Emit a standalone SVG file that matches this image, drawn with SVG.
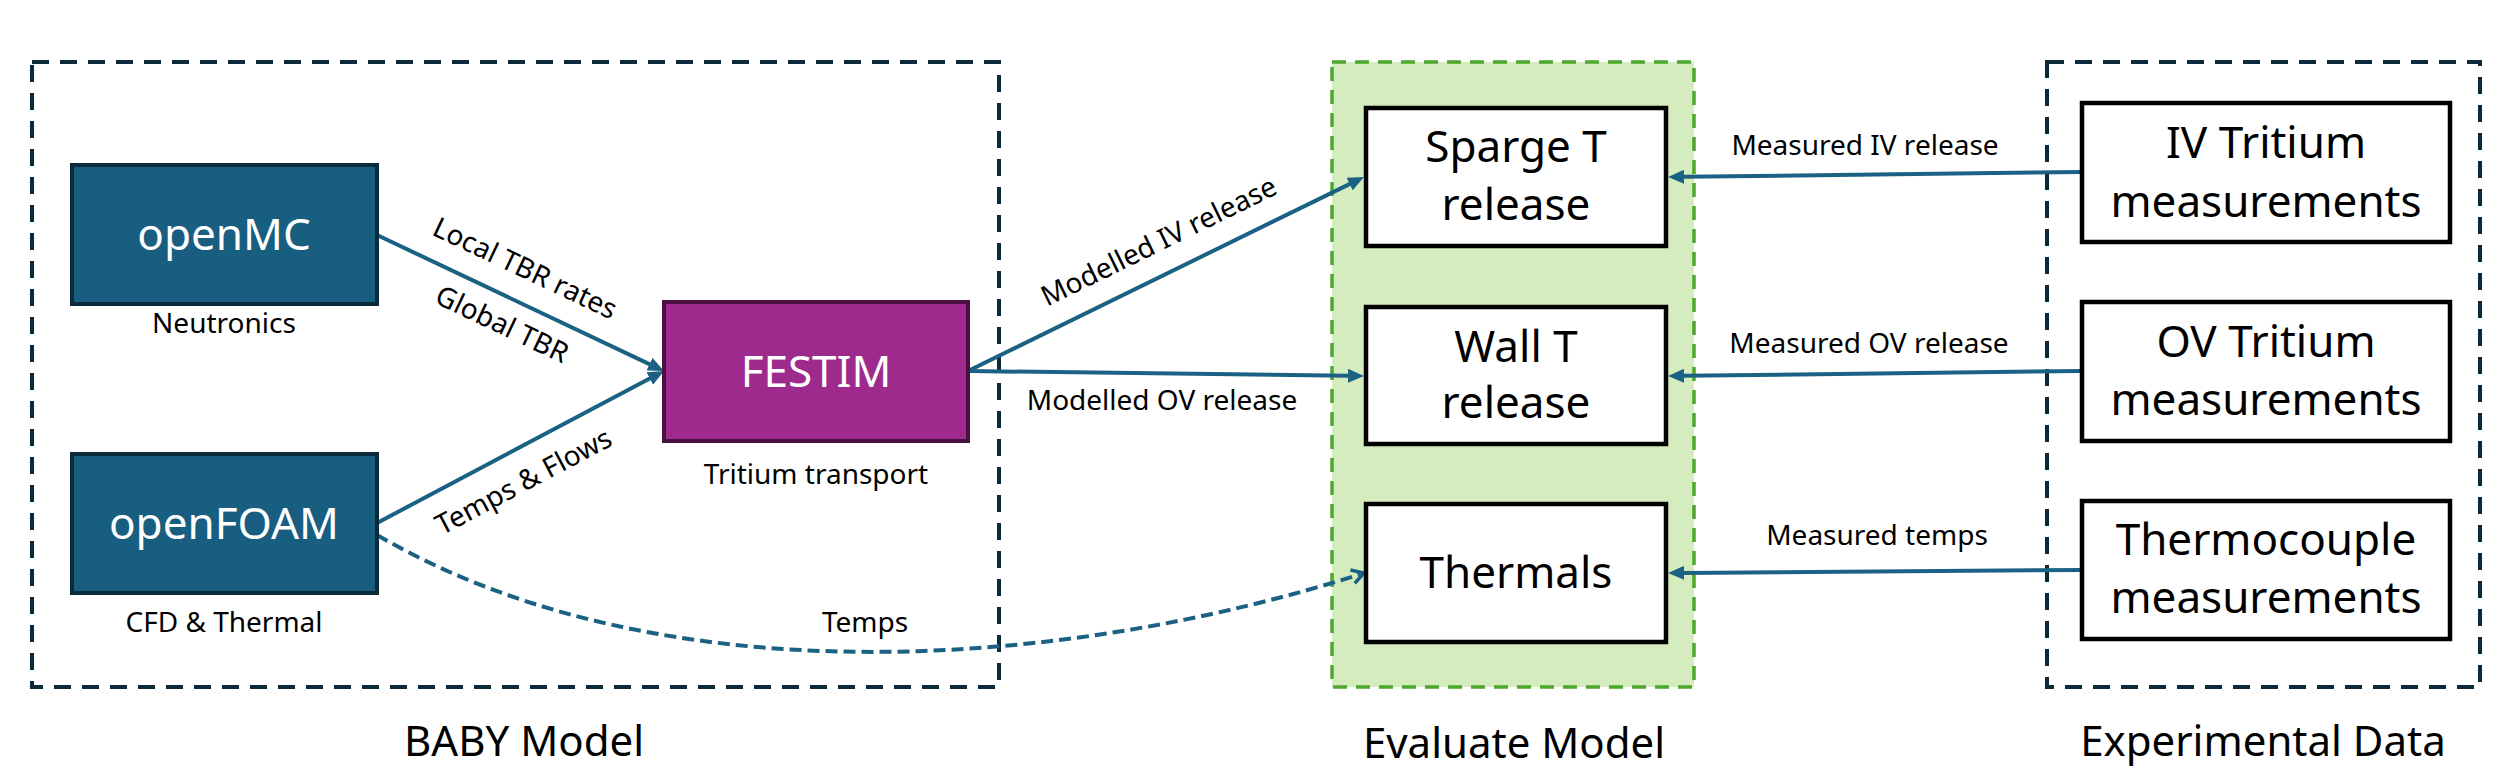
<svg xmlns="http://www.w3.org/2000/svg" width="2500" height="776" viewBox="0 0 2500 776">
<style>
text{font-family:"Noto Sans","Liberation Sans",sans-serif;fill:#000}
.big{font-size:44px;text-anchor:middle}
.wt{fill:#fff}
.sm{font-size:28px;text-anchor:middle}
.grp{fill:none;stroke:#0d2a3a;stroke-width:4;stroke-dasharray:17 11}
.blue{fill:#175e80;stroke:#0b2a3a;stroke-width:4}
.white{fill:#fff;stroke:#000;stroke-width:4.5}
.con{fill:none;stroke:#1b6184;stroke-width:4}
</style>
<defs>
<marker id="ah" markerUnits="userSpaceOnUse" markerWidth="16" markerHeight="14" viewBox="0 0 16 14" refX="1" refY="7" orient="auto">
<path d="M0,0 L16,7 L0,14 z" fill="#1b6184"/>
</marker>
<marker id="oa" markerUnits="userSpaceOnUse" markerWidth="18" markerHeight="18" viewBox="0 0 18 18" refX="15" refY="9" orient="auto">
<path d="M3,2 L15,9 L3,16" fill="none" stroke="#1b6184" stroke-width="3.5"/>
</marker>
</defs>
<rect width="2500" height="776" fill="#fff"/>

<g id="group-baby">
<rect class="grp" x="32" y="62" width="967" height="625"/>
<text class="big" x="524" y="756" style="font-size:42px">BABY Model</text>
</g>
<g id="group-evaluate">
<rect x="1332" y="62" width="362" height="625" fill="#d5ecbf" stroke="#4ea72e" stroke-width="3.5" stroke-dasharray="14 9"/>
<text class="big" x="1514" y="758" style="font-size:42px">Evaluate Model</text>
</g>
<g id="group-experimental">
<rect class="grp" x="2047" y="62" width="433" height="625"/>
<text class="big" x="2263" y="756" style="font-size:42px">Experimental Data</text>
</g>

<g id="connectors">
<line class="con" x1="377" y1="235" x2="650.4" y2="364.6" marker-end="url(#ah)"/>
<line class="con" x1="377" y1="523" x2="650.7" y2="378" marker-end="url(#ah)"/>
<line class="con" x1="968" y1="371" x2="1350.5" y2="183.6" marker-end="url(#ah)"/>
<line class="con" x1="968" y1="371" x2="1349" y2="375.8" marker-end="url(#ah)"/>
<line class="con" x1="2082" y1="172" x2="1683" y2="176.8" marker-end="url(#ah)"/>
<line class="con" x1="2082" y1="371" x2="1683" y2="375.8" marker-end="url(#ah)"/>
<line class="con" x1="2082" y1="570" x2="1683" y2="572.9" marker-end="url(#ah)"/>
<path class="con" d="M377,535 C660,700 1066,669 1364,573" stroke-dasharray="12 6" marker-end="url(#oa)"/>
<text class="sm" transform="translate(521,277) rotate(25.4)">Local TBR rates</text>
<text class="sm" transform="translate(498,333) rotate(25.4)">Global TBR</text>
<text class="sm" transform="translate(528,490) rotate(-27.9)">Temps &amp; Flows</text>
<text class="sm" transform="translate(1163,250) rotate(-26.1)">Modelled IV release</text>
<text class="sm" x="1162" y="410">Modelled OV release</text>
<text class="sm" x="865" y="632">Temps</text>
<text class="sm" x="1865" y="155">Measured IV release</text>
<text class="sm" x="1869" y="353">Measured OV release</text>
<text class="sm" x="1877" y="545">Measured temps</text>
</g>

<g id="node-openmc">
<rect class="blue" x="72" y="165" width="305" height="139"/>
<text class="big wt" x="224" y="250">openMC</text>
<text class="sm" x="224" y="333">Neutronics</text>
</g>
<g id="node-openfoam">
<rect class="blue" x="72" y="454" width="305" height="139"/>
<text class="big wt" x="224" y="539">openFOAM</text>
<text class="sm" x="224" y="632">CFD &amp; Thermal</text>
</g>
<g id="node-festim">
<rect x="664" y="302" width="304" height="139" fill="#9e2a8e" stroke="#4a1042" stroke-width="4"/>
<text class="big wt" x="816" y="387">FESTIM</text>
<text class="sm" x="816" y="484">Tritium transport</text>
</g>
<g id="node-sparge">
<rect class="white" x="1366" y="108" width="300" height="138"/>
<text class="big" x="1516" y="162">Sparge T</text>
<text class="big" x="1516" y="220">release</text>
</g>
<g id="node-wall">
<rect class="white" x="1366" y="307" width="300" height="137"/>
<text class="big" x="1516" y="362">Wall T</text>
<text class="big" x="1516" y="418">release</text>
</g>
<g id="node-thermals">
<rect class="white" x="1366" y="504" width="300" height="138"/>
<text class="big" x="1516" y="588">Thermals</text>
</g>
<g id="node-iv">
<rect class="white" x="2082" y="103" width="368" height="139"/>
<text class="big" x="2266" y="158">IV Tritium</text>
<text class="big" x="2266" y="217">measurements</text>
</g>
<g id="node-ov">
<rect class="white" x="2082" y="302" width="368" height="139"/>
<text class="big" x="2266" y="357">OV Tritium</text>
<text class="big" x="2266" y="415">measurements</text>
</g>
<g id="node-thermo">
<rect class="white" x="2082" y="501" width="368" height="138"/>
<text class="big" x="2266" y="555">Thermocouple</text>
<text class="big" x="2266" y="613">measurements</text>
</g>
</svg>
